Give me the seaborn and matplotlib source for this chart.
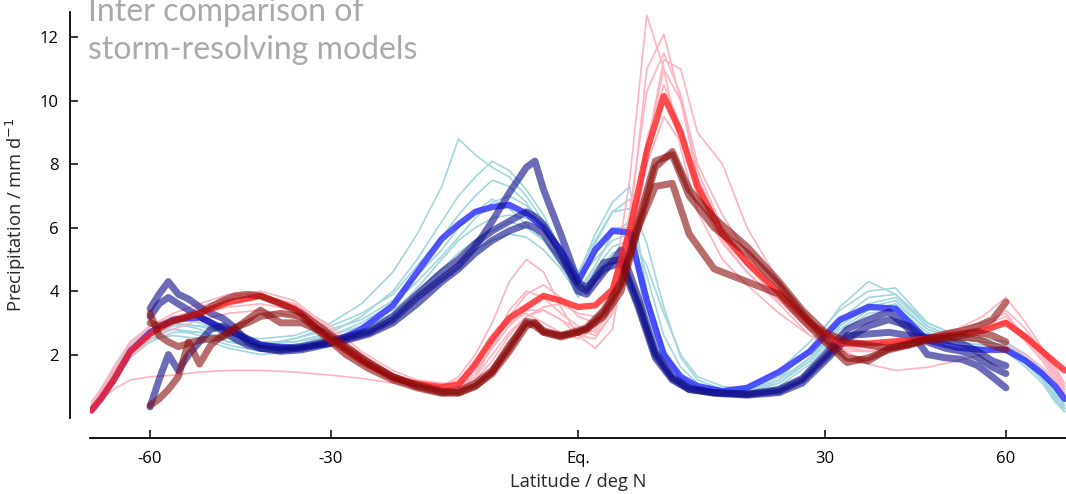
import numpy as np
import pandas as pd
import matplotlib
matplotlib.use("Agg")
import matplotlib.pyplot as plt
import seaborn as sns

# ---------------- data ----------------
# latitude grid (deg N) for the model curves
lat_models = [-80, -75, -70, -65, -60, -55, -50, -45, -40, -35, -30, -26, -22, -19, -16,
              -14, -12, -10, -8, -6, -4, -2, 0, 2, 4, 6, 8, 10, 12, 14, 17, 20, 24,
              28, 32, 36, 40, 45, 50, 55, 60, 65, 70, 75, 80]

# latitude grid (deg N) for the observation curves (limited to 60S-60N)
lat_obs = [-60, -58, -56, -54, -52, -50, -48, -46, -44, -42, -40, -37, -34, -31, -28,
           -25, -22, -19, -16, -14, -12, -10, -8, -6, -5, -4, -2, 0, 1, 3, 5, 7, 9,
           11, 13, 16, 20, 24, 27, 30, 33, 36, 39, 42, 45, 48, 51, 54, 57, 60]

# individual storm-resolving models, season 1 (light blue)
blue_model_1 = [0.3, 0.8, 1.5, 2.3, 2.8, 3.0, 2.9, 2.6, 2.5, 2.6, 3.0, 3.6, 4.6, 5.8, 7.3, 8.8, 8.3, 7.9, 7.6, 7.0, 6.2, 5.2, 4.5, 5.8, 6.8, 7.3, 4.0, 2.0, 1.3, 1.0, 0.9, 1.0, 1.5, 2.4, 3.4, 4.0, 4.1, 3.0, 2.6, 2.5, 2.4, 2.0, 1.5, 0.9, 0.4]
blue_model_2 = [0.3, 0.7, 1.3, 2.1, 2.6, 2.9, 2.9, 2.7, 2.4, 2.4, 2.7, 3.2, 4.0, 5.0, 6.2, 7.0, 7.6, 8.1, 7.8, 7.2, 6.4, 5.3, 4.3, 5.5, 6.5, 6.6, 3.5, 1.6, 1.1, 0.9, 0.8, 0.9, 1.3, 2.1, 3.1, 3.8, 3.9, 2.9, 2.5, 2.4, 2.3, 1.9, 1.4, 0.8, 0.3]
blue_model_3 = [0.4, 0.9, 1.6, 2.4, 2.9, 3.2, 3.0, 2.6, 2.3, 2.5, 2.9, 3.3, 3.9, 4.8, 5.7, 6.4, 7.0, 7.5, 7.3, 6.8, 6.0, 5.0, 4.0, 4.8, 5.8, 6.2, 4.5, 2.6, 1.6, 1.1, 0.9, 0.9, 1.2, 1.9, 3.0, 3.6, 3.5, 2.7, 2.4, 2.3, 2.2, 1.8, 1.3, 0.7, 0.3]
blue_model_4 = [0.3, 0.6, 1.1, 1.9, 2.4, 2.7, 2.7, 2.4, 2.2, 2.3, 2.6, 3.0, 3.6, 4.3, 5.1, 5.7, 6.3, 6.8, 7.0, 6.7, 6.1, 5.3, 4.4, 5.0, 5.6, 5.8, 4.8, 3.3, 2.0, 1.3, 1.0, 0.9, 1.1, 1.8, 2.8, 3.4, 3.6, 2.8, 2.5, 2.4, 2.3, 1.8, 1.2, 0.6, 0.2]
blue_model_5 = [0.4, 0.8, 1.4, 2.2, 2.7, 2.8, 2.7, 2.5, 2.3, 2.4, 2.6, 2.9, 3.4, 4.0, 4.7, 5.2, 5.6, 5.9, 6.2, 6.0, 5.6, 5.0, 4.2, 5.2, 6.0, 6.0, 3.0, 1.5, 1.0, 0.8, 0.7, 0.8, 1.1, 1.9, 2.9, 3.5, 3.7, 2.8, 2.4, 2.3, 2.2, 1.7, 1.2, 0.7, 0.3]
blue_model_6 = [0.3, 0.7, 1.2, 2.0, 2.5, 2.6, 2.5, 2.2, 2.0, 2.1, 2.4, 2.7, 3.2, 3.8, 4.4, 4.9, 5.3, 5.6, 5.8, 5.7, 5.3, 4.7, 3.9, 4.7, 5.4, 5.6, 4.0, 2.2, 1.3, 1.0, 0.8, 0.8, 1.2, 2.2, 3.5, 4.3, 3.9, 3.0, 2.6, 2.5, 2.4, 1.9, 1.3, 0.6, 0.2]
blue_model_7 = [0.5, 0.9, 1.5, 2.3, 2.8, 3.0, 2.8, 2.4, 2.3, 2.5, 2.8, 3.1, 3.7, 4.5, 5.3, 6.0, 6.5, 6.9, 6.6, 6.1, 5.6, 4.8, 3.8, 4.5, 5.2, 5.4, 3.8, 2.1, 1.2, 0.9, 0.7, 0.7, 1.0, 1.7, 2.7, 3.3, 3.4, 2.6, 2.3, 2.2, 2.1, 1.6, 1.1, 0.5, 0.2]
blue_model_8 = [0.4, 0.7, 1.3, 2.1, 2.6, 2.8, 2.6, 2.3, 2.1, 2.2, 2.5, 2.8, 3.3, 4.1, 5.0, 5.6, 6.0, 6.3, 6.4, 6.3, 6.0, 5.4, 4.6, 5.6, 6.5, 6.9, 5.5, 3.5, 1.9, 1.2, 0.9, 0.8, 1.1, 1.8, 2.9, 3.6, 3.8, 2.9, 2.5, 2.4, 2.3, 1.8, 1.2, 0.6, 0.2]

# individual storm-resolving models, season 2 (pink)
red_model_1 = [0.3, 0.7, 1.3, 2.1, 2.7, 3.1, 3.5, 3.8, 4.0, 3.7, 2.8, 2.0, 1.4, 1.1, 1.0, 1.2, 1.7, 2.5, 3.0, 3.3, 3.0, 2.7, 2.5, 2.8, 4.0, 7.5, 12.7, 11.0, 8.5, 6.5, 5.0, 4.2, 3.3, 2.6, 2.2, 2.1, 2.2, 2.4, 2.6, 2.9, 3.2, 2.6, 2.0, 1.4, 0.9]
red_model_2 = [0.4, 0.8, 1.4, 2.3, 2.9, 3.3, 3.6, 3.9, 3.9, 3.5, 2.6, 1.8, 1.3, 1.0, 0.9, 1.0, 1.4, 2.2, 3.2, 3.9, 4.2, 3.8, 3.2, 3.0, 3.8, 5.5, 8.5, 11.3, 11.0, 9.0, 8.0, 6.0, 4.3, 3.0, 2.4, 2.3, 2.4, 2.6, 2.8, 3.2, 3.8, 3.0, 2.2, 1.6, 1.1]
red_model_3 = [0.3, 0.6, 0.9, 1.2, 1.3, 1.35, 1.45, 1.5, 1.5, 1.45, 1.35, 1.25, 1.1, 1.0, 1.0, 1.3, 2.0, 3.0, 4.3, 5.0, 4.6, 3.5, 2.6, 2.5, 3.3, 5.2, 8.5, 11.0, 10.0, 7.8, 6.0, 5.0, 3.8, 2.8, 2.2, 1.7, 1.5, 1.6, 1.8, 2.0, 2.3, 2.0, 1.6, 1.2, 0.8]
red_model_4 = [0.3, 0.7, 1.3, 2.0, 2.6, 3.0, 3.3, 3.5, 3.6, 3.4, 2.6, 1.8, 1.2, 0.9, 0.85, 0.9, 1.2, 1.8, 2.6, 3.2, 3.4, 3.1, 2.8, 2.6, 3.3, 5.2, 8.8, 10.5, 9.2, 7.2, 5.6, 4.6, 3.6, 2.6, 2.1, 2.1, 2.3, 2.6, 2.8, 3.0, 3.3, 2.5, 1.9, 1.3, 0.8]
red_model_5 = [0.5, 0.9, 1.6, 2.4, 2.9, 3.2, 3.4, 3.7, 3.9, 3.6, 2.9, 2.1, 1.5, 1.2, 1.1, 1.1, 1.5, 2.2, 2.9, 3.4, 3.4, 3.1, 2.6, 2.2, 2.8, 6.0, 11.0, 12.1, 10.0, 7.6, 5.9, 4.8, 3.7, 2.9, 2.5, 2.3, 2.3, 2.5, 2.7, 2.9, 3.0, 2.4, 1.8, 1.2, 0.7]
red_model_6 = [0.3, 0.6, 1.2, 1.9, 2.5, 2.8, 3.1, 3.3, 3.4, 3.2, 2.5, 1.7, 1.2, 1.0, 0.9, 1.0, 1.3, 2.0, 2.7, 3.2, 3.5, 3.6, 3.3, 3.2, 3.8, 5.3, 8.0, 9.5, 8.7, 7.0, 5.5, 4.6, 3.7, 2.8, 2.3, 2.2, 2.4, 2.6, 2.7, 2.8, 3.1, 2.6, 2.0, 1.4, 0.9]
red_model_7 = [0.4, 0.8, 1.5, 2.2, 2.8, 3.1, 3.4, 3.6, 3.8, 3.6, 2.7, 1.9, 1.3, 1.0, 0.9, 0.9, 1.3, 2.3, 3.4, 4.0, 3.8, 3.3, 2.9, 2.7, 3.5, 6.5, 10.3, 11.5, 10.2, 8.0, 6.4, 5.2, 3.9, 2.8, 2.3, 2.1, 2.2, 2.4, 2.6, 2.8, 3.4, 2.8, 2.1, 1.5, 1.0]

# multi-model means
blue_mean = [0.24, 0.6, 1.2, 2.1, 2.7, 3.1, 3.17, 2.76, 2.3, 2.2, 2.35, 2.8, 3.55, 4.6, 5.65, 6.1, 6.5, 6.65, 6.72, 6.45, 6.0, 5.3, 4.3, 5.3, 5.9, 5.85, 3.7, 2.0, 1.3, 1.0, 0.85, 0.95, 1.45, 2.1, 3.1, 3.5, 3.45, 2.45, 2.22, 2.15, 2.15, 1.8, 1.4, 1.0, 0.6]
red_mean = [0.24, 0.6, 1.2, 2.1, 2.65, 3.07, 3.3, 3.65, 3.85, 3.45, 2.45, 1.8, 1.25, 1.08, 0.98, 1.05, 1.7, 2.5, 3.15, 3.5, 3.85, 3.7, 3.5, 3.55, 4.05, 5.9, 8.4, 10.15, 9.0, 7.3, 5.8, 4.9, 3.95, 3.0, 2.35, 2.35, 2.42, 2.5, 2.65, 2.75, 3.0, 2.55, 2.1, 1.75, 1.5]

# observational products, season 1 (dark blue)
blue_obs_1 = [3.45, 3.9, 4.3, 3.9, 3.75, 3.5, 3.3, 3.15, 2.85, 2.4, 2.2, 2.15, 2.2, 2.35, 2.5, 2.7, 3.1, 3.8, 4.4, 4.8, 5.4, 6.2, 7.1, 7.9, 8.1, 7.2, 5.8, 4.3, 4.1, 4.7, 4.9, 3.5, 1.9, 1.2, 0.9, 0.8, 0.75, 0.9, 1.25, 2.0, 2.8, 3.1, 3.35, 2.8, 2.0, 1.9, 1.85, 1.65, 1.3, 0.95]
blue_obs_2 = [0.35, 1.2, 2.0, 1.5, 2.0, 2.4, 2.8, 2.9, 2.7, 2.5, 2.3, 2.2, 2.25, 2.4, 2.55, 2.75, 3.2, 3.9, 4.6, 5.0, 5.5, 5.9, 6.2, 6.5, 6.35, 6.1, 5.2, 4.0, 3.9, 4.6, 5.3, 3.8, 2.1, 1.3, 0.95, 0.8, 0.75, 0.85, 1.2, 1.9, 2.6, 2.65, 2.7, 2.6, 2.55, 2.45, 2.35, 2.1, 1.8, 1.65]
blue_obs_3 = [3.2, 3.6, 3.8, 3.6, 3.4, 3.2, 3.0, 2.75, 2.5, 2.3, 2.2, 2.1, 2.15, 2.3, 2.45, 2.65, 3.0, 3.6, 4.3, 4.7, 5.2, 5.6, 5.9, 6.1, 6.0, 5.8, 5.0, 4.2, 4.0, 4.9, 5.0, 3.6, 2.0, 1.25, 0.9, 0.78, 0.72, 0.8, 1.1, 1.8, 2.5, 2.9, 3.1, 2.9, 2.4, 2.2, 2.1, 1.9, 1.6, 1.4]

# observational products, season 2 (dark red)
red_obs_1 = [3.3, 2.6, 2.4, 2.25, 2.35, 2.45, 2.5, 2.55, 2.8, 3.1, 3.4, 3.0, 3.0, 2.7, 2.2, 1.7, 1.3, 1.0, 0.8, 0.85, 1.1, 1.5, 2.2, 3.05, 3.0, 2.7, 2.6, 2.7, 2.8, 3.3, 4.2, 6.2, 8.1, 8.3, 7.0, 6.0, 5.2, 4.2, 3.3, 2.5, 1.9, 1.8, 2.2, 2.35, 2.5, 2.65, 2.75, 2.9, 3.1, 3.65]
red_obs_2 = [0.4, 0.6, 0.9, 1.3, 2.4, 1.7, 2.3, 2.6, 2.85, 3.0, 3.2, 3.3, 3.2, 2.6, 2.0, 1.55, 1.2, 0.95, 0.78, 0.78, 1.0, 1.4, 2.1, 2.9, 3.0, 2.75, 2.6, 2.75, 2.85, 3.4, 4.3, 6.0, 7.3, 7.4, 5.8, 4.7, 4.3, 3.9, 3.1, 2.4, 1.75, 1.9, 2.15, 2.3, 2.45, 2.5, 2.55, 2.5, 2.3, 2.15]
red_obs_3 = [3.0, 2.9, 3.0, 3.1, 3.2, 3.3, 3.5, 3.7, 3.85, 3.9, 3.85, 3.6, 3.3, 2.8, 2.25, 1.75, 1.3, 1.05, 0.85, 0.8, 1.0, 1.45, 2.3, 3.0, 2.9, 2.7, 2.55, 2.7, 2.8, 3.2, 4.0, 6.0, 7.9, 8.4, 7.2, 6.3, 5.4, 4.3, 3.4, 2.7, 2.4, 2.3, 2.2, 2.3, 2.5, 2.55, 2.6, 2.7, 2.6, 2.4]

x_ticks = [-60, -30, 0, 30, 60]
x_tick_labels = ["-60", "-30", "Eq.", "30", "60"]
y_ticks = [2, 4, 6, 8, 10, 12]


def long_frame(lats, series):
    rows = []
    for name, vals in series.items():
        for la, v in zip(lats, vals):
            rows.append((name, la, v))
    return pd.DataFrame(rows, columns=["run", "lat", "pr"])


df_blue_models = long_frame(lat_models, {f"b{i}": s for i, s in enumerate(
    [blue_model_1, blue_model_2, blue_model_3, blue_model_4,
     blue_model_5, blue_model_6, blue_model_7, blue_model_8])})
df_red_models = long_frame(lat_models, {f"r{i}": s for i, s in enumerate(
    [red_model_1, red_model_2, red_model_3, red_model_4,
     red_model_5, red_model_6, red_model_7])})
df_blue_obs = long_frame(lat_obs, {f"bo{i}": s for i, s in enumerate(
    [blue_obs_1, blue_obs_2, blue_obs_3])})
df_red_obs = long_frame(lat_obs, {f"ro{i}": s for i, s in enumerate(
    [red_obs_1, red_obs_2, red_obs_3])})
df_blue_mean = long_frame(lat_models, {"bm": blue_mean})
df_red_mean = long_frame(lat_models, {"rm": red_mean})

# ---------------- plot ----------------
sns.set_theme(style="ticks")
plt.rcParams["font.family"] = ["Open Sans", "DejaVu Sans"]

fig = plt.figure(figsize=(10.66, 4.94), dpi=100)
ax = fig.add_axes([90 / 1066, 76 / 494, 976 / 1066, 406 / 494])

common = dict(x="lat", y="pr", units="run", estimator=None, legend=False, ax=ax)
sns.lineplot(data=df_blue_models, color="#a3d6df", lw=1.2, **common)
sns.lineplot(data=df_red_models, color="#ffb3c1", lw=1.2, **common)
sns.lineplot(data=df_blue_mean, color="#2a2aff", lw=4.5, alpha=0.8, **common)
sns.lineplot(data=df_blue_obs, color="#10108c", lw=5, alpha=0.62, **common)
sns.lineplot(data=df_red_mean, color="#ff1f1f", lw=4.5, alpha=0.8, **common)
sns.lineplot(data=df_red_obs, color="#8a0a0a", lw=5, alpha=0.6, **common)

fwd = lambda x: np.sin(np.deg2rad(x))
inv = lambda y: np.rad2deg(np.arcsin(np.clip(y, -1, 1)))
ax.set_xscale("function", functions=(fwd, inv))
ax.set_xlim(-81, 81)
ax.set_ylim(0, 12.8)
ax.set_xticks(x_ticks)
ax.set_xticklabels(x_tick_labels)
ax.set_yticks(y_ticks)
ax.minorticks_off()

ax.tick_params(axis="both", direction="in", length=6, width=1.1, colors="black",
               labelsize=12)
ax.tick_params(axis="x", pad=9)
ax.tick_params(axis="y", pad=8)
sns.despine(ax=ax, offset=14.4)
for s in ("left", "bottom"):
    ax.spines[s].set_linewidth(1.3)
    ax.spines[s].set_color("black")

ax.set_xlabel("Latitude / deg N", fontsize=13.2, labelpad=5)
ax.set_ylabel("Precipitation / mm d$^{-1}$", fontsize=13.2)
ax.yaxis.set_label_coords(-0.064, 0.5)

fig.text(88 / 1066, 1 - 59 / 494, "Inter comparison of\nstorm-resolving models",
         fontsize=23, color="#a9a9a9", ha="left", va="baseline",
         linespacing=1.33, family=["Lato", "DejaVu Sans"])

fig.savefig("out.png", dpi=100)
